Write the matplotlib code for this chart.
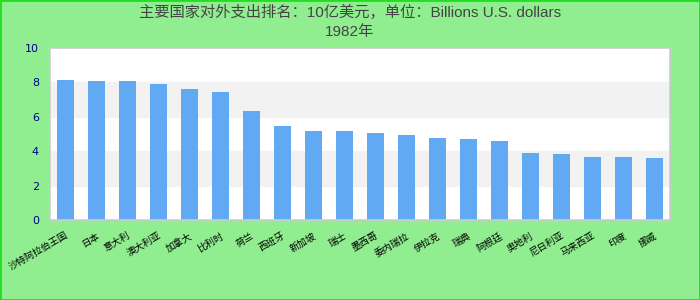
import matplotlib
matplotlib.use('Agg')
import matplotlib.pyplot as plt
from matplotlib.patches import Rectangle
from matplotlib.transforms import ScaledTranslation

# Данные
countries = ['沙特阿拉伯王国', '日本', '意大利', '澳大利亚', '加拿大', '比利时', '荷兰',
             '西班牙', '新加坡', '瑞士', '墨西哥', '委内瑞拉', '伊拉克', '瑞典',
             '阿根廷', '奥地利', '尼日利亚', '马来西亚', '印度', '挪威']
values = [8.14, 8.08, 8.08, 7.91, 7.62, 7.44, 6.34, 5.47, 5.17, 5.17,
          5.06, 4.94, 4.77, 4.71, 4.59, 3.90, 3.84, 3.66, 3.66, 3.60]
yticks = [0, 2, 4, 6, 8, 10]
title_line1 = '主要国家对外支出排名：10亿美元，单位：Billions U.S. dollars'
title_line2 = '1982年'

fig = plt.figure(figsize=(7, 3), dpi=100, facecolor='#90ee90')
# рамка вокруг всей картинки
fig.patches.append(Rectangle((0, 0), 1, 1, transform=fig.transFigure, fill=False,
                             edgecolor='#22dd22', linewidth=2))

ax = fig.add_axes([50 / 700, 80 / 300, 620 / 700, 172 / 300])
ax.set_facecolor('white')

# чередующиеся полосы фона
for lo in (2, 6):
    ax.axhspan(lo, lo + 2, color='#f2f2f2', zorder=0)

x = range(len(values))
ax.bar(x, values, width=0.55, color='#62a9f4', zorder=2)

ax.set_xlim(-0.5, len(values) - 0.5)
ax.set_ylim(0, 10)
ax.set_yticks(yticks)
ax.set_yticklabels([str(t) for t in yticks], color='#00008b', fontsize=8,
                   family='DejaVu Sans')
ax.set_xticks(list(x))
ax.set_xticklabels(countries, rotation=30, ha='right', rotation_mode='anchor',
                   fontsize=6.8, family=['Noto Sans CJK SC', 'DejaVu Sans'])
# сдвигаем подписи немного влево
shift = ScaledTranslation(-6 / 100, 0, fig.dpi_scale_trans)
for lbl in ax.get_xticklabels():
    lbl.set_transform(lbl.get_transform() + shift)
ax.tick_params(length=0, pad=8)
ax.tick_params(axis='x', pad=8)
for s in ax.spines.values():
    s.set_color('#cccccc')
    s.set_linewidth(1.2)

fig.text(0.5, 1 - 12 / 300, title_line1, ha='center', va='center', fontsize=11,
         color='#444444', family=['Liberation Sans', 'Noto Sans CJK SC'])
fig.text(0.5, 1 - 32 / 300, title_line2, ha='center', va='center', fontsize=11,
         color='#444444', family=['Liberation Sans', 'Noto Sans CJK SC'])

fig.savefig('out.png', dpi=100, facecolor=fig.get_facecolor())
